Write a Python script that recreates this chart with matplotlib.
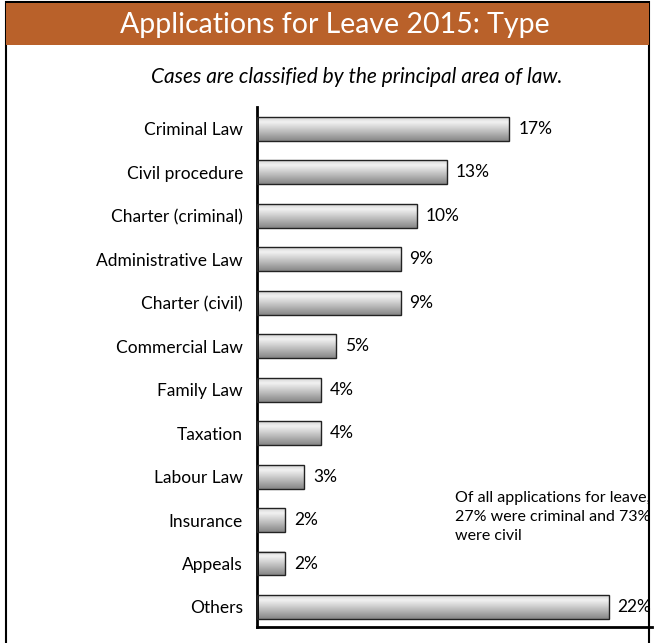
import matplotlib
matplotlib.use("Agg")
import matplotlib.pyplot as plt
import numpy as np
from matplotlib.patches import Rectangle
from matplotlib.colors import LinearSegmentedColormap

categories = ["Criminal Law", "Civil procedure", "Charter (criminal)", "Administrative Law",
              "Charter (civil)", "Commercial Law", "Family Law", "Taxation", "Labour Law",
              "Insurance", "Appeals", "Others"]
values = [15.8, 11.9, 10.0, 9.0, 9.0, 4.95, 4.0, 4.0, 2.95, 1.75, 1.75, 22.0]
value_labels = ["17%", "13%", "10%", "9%", "9%", "5%", "4%", "4%", "3%", "2%", "2%", "22%"]
title = "Applications for Leave 2015: Type"
subtitle = "Cases are classified by the principal area of law."
note = "Of all applications for leave,\n27% were criminal and 73%\nwere civil"

W, H = 654, 643
plt.rcParams['font.family'] = ['Lato', 'DejaVu Sans']
fig = plt.figure(figsize=(W / 100, H / 100), dpi=100)

def fx(px):
    return px / W

def fy(py):
    return 1 - py / H

# outer frame and title banner
fig.patches.append(Rectangle((fx(6), fy(650)), fx(649) - fx(6), fy(2) - fy(650),
                             transform=fig.transFigure, facecolor='white',
                             edgecolor='black', linewidth=1.5, zorder=-2))
fig.patches.append(Rectangle((fx(6), fy(45)), fx(649) - fx(6), fy(3) - fy(45),
                             transform=fig.transFigure, facecolor='#B9612A',
                             edgecolor='none', zorder=-1))
fig.text(fx(335), fy(25), title, color='white', fontsize=20.5, ha='center', va='center')
fig.text(fx(357), fy(77), subtitle, fontsize=15, style='italic', ha='center', va='center')

ax = fig.add_axes([fx(257), fy(627), fx(652) - fx(257), fy(107) - fy(627)])
ax.set_facecolor('none')
n = len(categories)
y = np.arange(n)
bars = ax.barh(y, values, height=0.55, facecolor='none', edgecolor='#222222',
               linewidth=1.0, zorder=3)

cmap = LinearSegmentedColormap.from_list('g', [(0, '#d4d4d4'), (0.2, '#f2f2f2'),
                                               (0.55, '#c4c4c4'), (1, '#868686')])
grad = np.linspace(0, 1, 64).reshape(-1, 1)
for b, lab in zip(bars, value_labels):
    x0, y0, w, h = b.get_x(), b.get_y(), b.get_width(), b.get_height()
    ax.imshow(grad, cmap=cmap, extent=(x0, x0 + w, y0 + h, y0), aspect='auto',
              interpolation='bilinear', zorder=2)
    ax.text(x0 + w + 0.55, y0 + h / 2, lab, va='center', ha='left', fontsize=12.5)

ax.set_yticks(y)
ax.set_yticklabels(categories, fontsize=12.5)
ax.tick_params(axis='y', length=0, pad=10)
ax.set_xticks([])
for s in ['top', 'right']:
    ax.spines[s].set_visible(False)
ax.spines['left'].set_linewidth(2)
ax.spines['bottom'].set_linewidth(2)
ax.set_xlim(0, (652 - 257) / 15.98)
ax.set_ylim(n - 1 + 0.46, -0.5)

fig.text(fx(455), fy(517), note, fontsize=11.5, ha='left', va='center', linespacing=1.45)

fig.savefig("out.png", dpi=100)
